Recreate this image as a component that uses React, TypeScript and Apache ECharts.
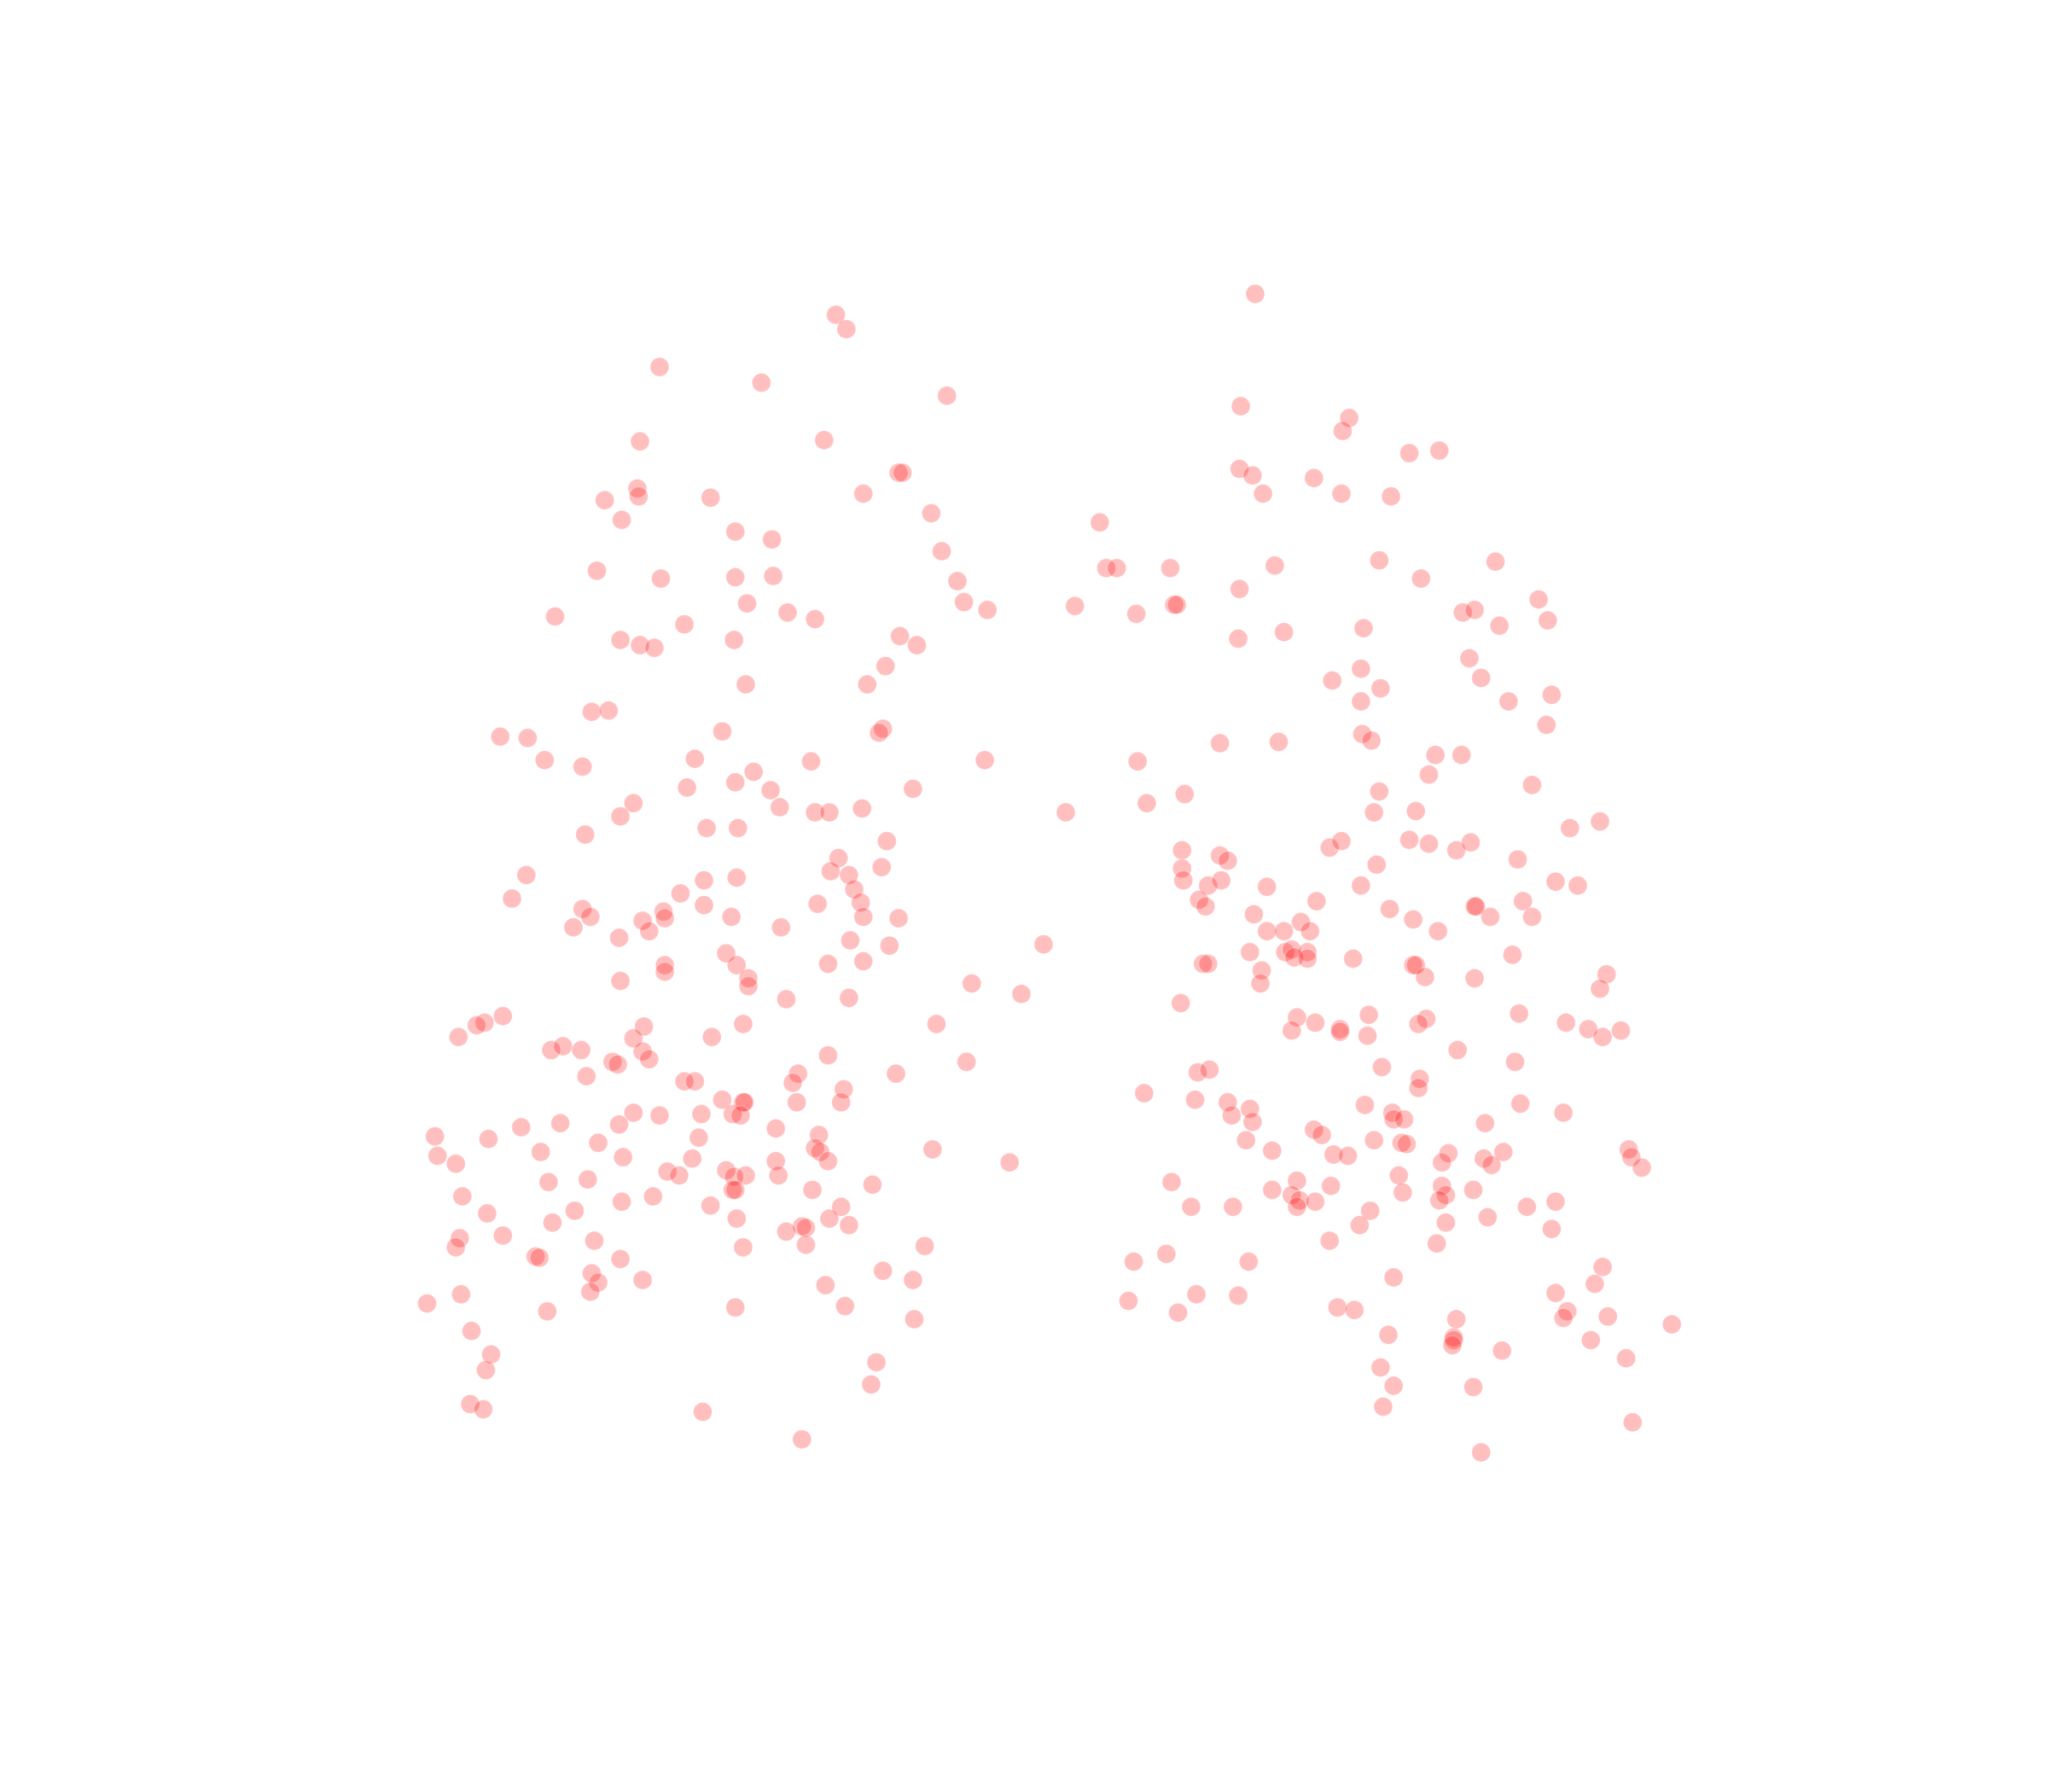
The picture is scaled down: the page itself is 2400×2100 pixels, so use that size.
import React, { useEffect, useRef } from "react";
import * as echarts from "echarts";

const X_RANGE = [0, 1568];
const Y_RANGE = [0, 1372];

const leftCluster = [
[640,241],[648,252],[505,281],[583,293],[725,303],[490,338],[631,337],[688,362],[691,362],[488,374],[489,380],[463,383],[544,381],[661,378],[476,398],[713,393],[563,407],[591,413],[721,422],[457,437],[506,443],[563,442],[592,441],[733,445],[738,461],[756,467],[572,462],[603,469],[624,474],[425,472],[524,478],[475,490],[490,494],[501,496],[562,490],[689,487],[702,494],[678,510],[664,524],[571,524],[453,545],[466,544],[553,560],[676,558],[673,561],[383,564],[404,565],[417,582],[446,587],[532,581],[577,591],[621,583],[754,582],[563,599],[526,603],[590,605],[699,604],[485,615],[475,625],[597,618],[624,622],[635,622],[660,619],[541,634],[565,634],[448,639],[679,644],[642,657],[636,667],[650,670],[675,664],[403,670],[539,674],[564,672],[654,681],[521,684],[392,688],[659,691],[446,696],[539,693],[626,692],[452,702],[508,698],[509,703],[492,705],[560,702],[661,702],[688,703],[439,710],[497,713],[598,710],[474,718],[651,720],[681,724],[556,730],[509,739],[509,744],[564,739],[634,738],[661,736],[799,723],[573,749],[475,751],[573,755],[744,753],[602,765],[650,764],[782,761],[385,778],[371,783],[365,785],[493,786],[569,784],[717,784],[351,794],[485,795],[545,794],[422,804],[431,801],[445,804],[492,805],[497,811],[469,813],[473,815],[634,808],[740,813],[449,824],[524,828],[532,828],[611,822],[607,829],[686,822],[646,834],[553,842],[569,844],[570,844],[610,844],[644,844],[485,852],[505,854],[537,853],[561,853],[567,854],[429,860],[399,863],[474,861],[594,864],[333,870],[374,872],[535,871],[627,869],[458,875],[624,879],[628,882],[714,880],[335,885],[414,882],[477,886],[530,887],[594,889],[634,889],[773,890],[349,891],[511,897],[520,900],[556,896],[562,901],[571,900],[596,900],[450,903],[420,905],[668,907],[561,911],[563,911],[622,911],[354,916],[500,916],[476,920],[544,923],[644,924],[373,929],[440,927],[564,933],[635,933],[423,936],[650,938],[614,939],[617,940],[602,943],[385,946],[352,948],[349,955],[455,950],[569,955],[617,953],[708,954],[410,962],[413,963],[475,964],[453,975],[676,973],[492,980],[458,982],[699,980],[632,984],[452,989],[353,991],[327,998],[419,1004],[563,1001],[647,1000],[700,1010],[361,1019],[376,1037],[671,1043],[372,1049],[667,1060],[360,1075],[370,1079],[538,1081],[614,1102],
];

const rightCluster = [
[961,225],[950,311],[1033,320],[1028,330],[1079,347],[1102,345],[949,359],[959,364],[1006,366],[967,378],[1027,378],[1065,380],[842,400],[847,435],[855,435],[896,435],[976,433],[1056,429],[1145,430],[1088,443],[949,451],[899,463],[901,463],[823,464],[870,470],[1120,469],[1129,467],[1178,459],[1148,479],[1185,475],[1044,481],[948,489],[983,484],[1125,504],[1042,512],[1020,521],[1134,519],[1057,527],[1042,537],[1155,537],[1188,532],[1184,555],[1043,562],[1050,567],[934,569],[979,568],[1099,578],[1119,578],[871,583],[1094,593],[907,608],[1056,606],[1173,601],[878,615],[816,622],[1052,622],[1084,621],[1225,629],[1202,634],[905,651],[1018,649],[1027,644],[1079,643],[1094,646],[1115,651],[1126,645],[934,655],[940,659],[1162,658],[1054,662],[905,665],[906,674],[925,678],[935,674],[970,679],[1042,678],[1191,675],[1208,678],[918,689],[923,694],[1008,690],[1129,694],[1130,694],[1166,690],[960,700],[1064,696],[1082,704],[1141,702],[1173,702],[996,706],[970,713],[983,713],[1003,713],[1101,713],[957,729],[984,729],[989,727],[1001,729],[991,733],[1001,734],[1036,734],[1158,731],[921,738],[925,738],[1082,739],[1084,739],[966,743],[1091,748],[1129,749],[1230,746],[965,753],[1225,757],[904,768],[993,779],[1048,777],[1007,783],[1092,780],[1086,784],[1163,776],[1199,783],[989,789],[1026,788],[1026,790],[1047,793],[1216,788],[1227,794],[1241,789],[1116,804],[1160,813],[1058,817],[917,821],[926,819],[1087,826],[1086,833],[876,837],[915,842],[940,844],[1164,845],[957,849],[1045,846],[943,854],[959,859],[1066,852],[1067,857],[1075,857],[1197,852],[1137,860],[1006,865],[1012,869],[954,873],[1052,873],[1073,875],[1077,876],[974,881],[1021,884],[1032,885],[1109,883],[1151,882],[1247,880],[1249,886],[1136,887],[1142,892],[1104,890],[1257,894],[1071,900],[897,905],[993,904],[1019,908],[1104,908],[974,911],[1128,911],[1074,913],[989,915],[995,919],[1007,920],[1107,915],[1102,919],[1191,920],[912,924],[944,924],[993,924],[1169,924],[1049,927],[1139,932],[1107,936],[1041,938],[1188,941],[1018,950],[1100,952],[893,960],[868,966],[956,966],[1227,970],[1067,978],[1221,983],[916,991],[948,992],[1191,990],[864,996],[1024,1001],[1037,1003],[902,1005],[1200,1004],[1197,1009],[1231,1008],[1115,1010],[1280,1014],[1063,1022],[1113,1024],[1113,1026],[1112,1030],[1218,1026],[1150,1034],[1245,1040],[1057,1047],[1067,1061],[1128,1062],[1059,1077],[1250,1089],[1134,1112],
];

export default function App() {
  const ref = useRef<HTMLDivElement>(null);
  useEffect(() => {
    const chart = echarts.init(ref.current!, undefined, { renderer: "svg" });
    chart.setOption({
      animation: false,
      backgroundColor: "#ffffff",
      grid: { left: 0, right: 0, top: 0, bottom: 0 },
      xAxis: { type: "value", min: X_RANGE[0], max: X_RANGE[1], show: false },
      yAxis: { type: "value", min: Y_RANGE[0], max: Y_RANGE[1], inverse: true, show: false },
      series: [
        {
          type: "scatter",
          data: [...leftCluster, ...rightCluster],
          symbol: "circle",
          symbolSize: 22,
          itemStyle: { color: "#ff0000", opacity: 0.25, borderColor: "#ffffff", borderWidth: 1.5 },
        },
      ],
    });
    return () => chart.dispose();
  }, []);
  return <div ref={ref} style={{ position: "absolute", left: 0, top: 0, width: 2400, height: 2100 }} />;
}
